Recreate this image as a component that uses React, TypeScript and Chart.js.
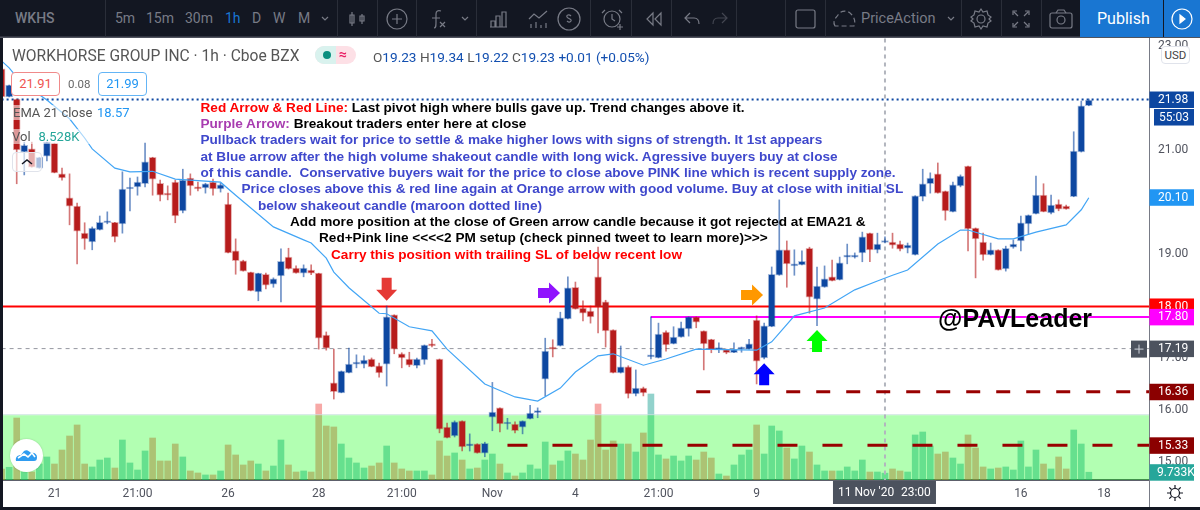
import React, { useEffect, useRef } from "react";
import { Chart, registerables } from "chart.js";

Chart.register(...registerables);

// Candles, hourly, left to right
const opens = [22.57,22.03,21.99,20.97,21.03,20.66,20.89,21.14,20.55,20.09,
19.93,19.41,19.24,19.47,19.61,19.62,19.59,20.26,20.30,20.36,
20.87,20.37,20.18,20.39,19.84,20.47,20.30,20.28,20.39,20.26,
19.97,19.07,18.88,18.66,18.28,18.62,18.43,18.59,18.95,18.74,
18.64,18.70,18.64,17.45,16.53,16.34,16.72,16.89,16.89,16.99,
16.86,16.89,17.84,17.09,16.99,16.86,16.97,17.28,16.99,15.68,
15.51,15.80,15.32,15.36,15.18,15.87,16.05,15.74,15.74,15.68,
15.84,15.96,16.60,17.20,17.24,17.76,18.37,17.97,17.91,18.57,
18.09,17.55,16.72,16.84,16.32,16.43,17.03,17.01,17.51,17.28,
17.41,17.57,17.80,17.53,17.37,17.17,17.17,17.11,17.18,17.18,
17.74,17.01,17.61,18.60,19.09,18.78,18.80,19.12,18.14,18.37,
18.57,18.51,18.95,18.95,19.03,19.41,19.09,19.23,19.24,19.20,
19.12,18.99,20.11,20.36,20.55,20.22,19.82,20.32,20.70,19.51,
19.24,18.99,19.09,18.72,19.14,19.26,19.59,19.78,20.14,19.80,
19.97,19.93,20.11,20.97,21.86];
const closes = [22.03,22.26,21.01,21.10,20.68,20.87,21.16,20.57,20.47,19.93,
19.45,19.30,19.51,19.62,19.62,19.34,20.26,20.28,20.39,20.78,
20.45,20.14,20.14,19.74,20.43,20.32,20.26,20.36,20.26,20.34,
19.03,18.88,18.68,18.30,18.64,18.41,18.53,18.87,18.72,18.64,
18.74,18.64,17.39,17.20,16.36,16.76,16.89,16.93,16.97,16.84,
16.72,17.80,17.18,17.01,16.87,16.99,17.26,17.24,15.64,15.47,
15.78,15.30,15.36,15.18,15.37,15.97,15.74,15.76,15.61,15.80,
15.95,15.97,17.14,17.18,17.78,18.36,17.95,17.87,17.80,17.99,
17.53,16.72,16.84,16.32,16.43,16.34,17.07,17.47,17.26,17.41,
17.59,17.80,17.70,17.28,17.17,17.20,17.11,17.17,17.20,17.28,
16.95,17.63,18.62,19.09,18.82,18.80,18.87,18.18,18.39,18.53,
18.49,18.84,18.99,18.99,19.34,19.09,19.20,19.23,19.18,19.10,
19.18,20.13,20.36,20.47,20.18,19.84,20.34,20.51,19.49,19.30,
18.99,19.09,18.70,19.12,19.20,19.61,19.76,20.14,19.82,19.95,
19.87,19.87,20.99,21.86,21.97];
const highs = [22.57,22.26,21.99,21.16,21.16,20.87,21.16,21.14,20.66,20.55,
19.99,19.61,19.53,19.74,19.82,19.62,20.59,20.47,20.49,21.14,
20.87,20.43,20.32,20.43,20.64,20.55,20.39,20.37,20.45,20.37,
20.18,19.30,18.89,18.66,18.64,18.64,18.55,19.11,19.12,18.78,
18.80,18.80,18.64,17.51,17.18,16.76,17.20,17.07,17.05,17.01,
16.91,18.01,17.84,17.11,17.12,17.01,17.26,17.37,16.99,15.76,
15.80,15.80,15.55,15.36,15.39,16.54,16.05,15.85,15.78,15.80,
16.10,16.05,17.39,17.36,17.89,18.57,18.47,18.11,18.01,19.14,
18.12,17.55,17.24,16.86,16.78,16.45,17.80,17.68,17.53,17.61,
17.70,17.80,17.80,17.53,17.37,17.30,17.18,17.30,17.22,17.37,
17.82,17.68,18.76,20.05,19.26,19.09,19.07,19.14,18.76,18.78,
18.89,18.95,19.20,19.03,19.43,19.41,19.41,19.34,19.41,19.26,
19.22,20.13,20.64,20.57,20.76,20.22,20.39,20.53,20.70,19.51,
19.41,19.22,19.09,19.16,19.28,19.74,19.76,20.51,20.36,20.14,
20.05,19.95,21.36,21.95,21.99];
const lows = [22.03,22.03,20.36,20.53,20.68,20.66,20.80,20.57,20.43,19.57,
18.82,19.10,19.09,19.47,19.59,19.24,19.41,19.84,20.14,20.30,
20.14,20.03,20.05,19.61,19.80,20.14,20.22,20.18,20.14,20.20,
19.03,18.62,18.68,18.30,18.11,18.34,18.37,18.09,18.72,18.64,
18.57,18.61,17.18,17.16,16.22,16.34,16.72,16.82,16.82,16.84,
16.64,16.47,17.09,16.82,16.84,16.82,16.89,17.22,15.57,15.47,
15.49,15.22,15.22,15.18,15.11,15.61,15.59,15.64,15.57,15.55,
15.84,15.86,16.28,17.03,17.24,17.76,17.95,17.72,17.68,17.49,
17.22,16.72,16.72,16.24,16.28,16.28,16.99,17.01,17.14,17.28,
17.41,17.43,17.59,16.78,17.11,17.11,17.09,17.11,17.12,17.18,
16.51,16.99,17.61,18.60,18.37,18.60,18.80,17.87,17.63,18.37,
18.49,18.51,18.82,18.93,18.86,18.86,19.03,19.22,19.12,19.07,
19.03,18.99,20.03,20.18,20.18,19.66,19.82,20.30,19.07,18.55,
18.89,18.99,18.70,18.68,19.12,19.07,19.39,19.78,19.82,19.78,
19.84,19.87,20.11,20.97,21.86];
// Volume in thousands of shares
const volumes = [13.8,15.9,77.5,10,10,20,28.8,20,37.5,55,
68.8,20,16.3,25,27.5,15,50,21.3,12.5,36.3,
52.5,23.8,23.8,45,28.8,11.3,8.8,6.3,6.3,11.3,
43.8,31.3,18.8,23.8,20,11.3,17.5,50,18.8,10,
11.3,10,95,67.5,66.3,45,27.5,21.3,15,17.5,
21.3,42.5,21.3,13.8,11.3,11.3,11.3,6.3,48.8,30,
33.8,25,13.8,15,25,32.5,20,8.8,5,8.8,
18.8,13.8,47.5,18.8,23.8,36.3,32.5,25,50,95,
37.5,48.8,45,45,35,58.8,107.5,31.3,26.3,30,
23.8,30,25,35,27.5,7.5,5,18.8,31.3,37.5,
68.8,32.5,67.5,61.3,40,26.3,42.5,35,18.8,11.3,
11.3,11.3,16.3,11.3,25,10,10,8.528,13.8,11.3,
10,56.3,60,42.5,32.5,35,27.5,20,56.3,40,
16.3,13.8,15,16.3,12.5,48.8,16.3,37.5,20,13.8,
28.8,13.8,62.5,45,9.733];
// EMA 21, read at the candles where its bends are visible
const emaIndex = [0,1,2,3,5,6,9,11,12,15,17,20,23,29,31,36,40,41,43,44,46,50,51,54,57,59,64,68,71,74,76,79,81,85,88,92,100,102,105,109,113,116,118,120,124,127,128,132,134,137,141,143,144];
const emaValues = [22.72,22.59,22.41,22.26,22.07,21.97,21.61,21.24,21.03,20.66,20.59,20.60,20.45,20.39,20.14,19.53,19.28,19.22,18.93,18.66,18.36,17.87,17.86,17.61,17.53,17.18,16.51,16.26,16.18,16.43,16.74,17.05,17.09,16.87,16.99,17.18,17.16,17.32,17.82,17.97,18.32,18.49,18.60,18.70,19.20,19.47,19.47,19.30,19.30,19.43,19.57,19.86,20.09];

const xTickIndex = [7,18,30,42,53,65,76,87,100,135,146];
const xTickLabels = ["21","21:00","26","28","21:00","Nov","4","21:00","9","16","18"];
const priceTicks = [15,16,17,18,19,20,21,22,23];

const crosshairIndex = 117;
const lastLevel = 21.98, crossLevel = 17.19, redLevel = 18.0, pinkLevel = 17.8, maroonHigh = 16.36, maroonLow = 15.33;
const bandTop = 15.91;
const VOLUME_DATASET = 10;

const UP = "#0d47a1", DOWN = "#b71c1c";
const hexA = (up: boolean, a: number) => (up ? `rgba(13,71,161,${a})` : `rgba(183,28,28,${a})`);
const isUp = closes.map((c, i) => c >= opens[i]);

const arrows = [
  { i: 51, price: 18.11, dir: "down", color: "#e53935" },
  { i: 73.96, price: 18.26, dir: "right", color: "#9013fe" },
  { i: 100.85, price: 18.22, dir: "right", color: "#ff9800" },
  { i: 101, price: 16.91, dir: "up", color: "#0000ff" },
  { i: 108, price: 17.55, dir: "up", color: "#00ff00" },
];

const priceTags = [
  { value: lastLevel, text: "21.98", bg: "#0d47a1" },
  { value: 20.1, text: "20.10", bg: "#2196f3" },
  { value: redLevel, text: "18.00", bg: "#ff0000" },
  { value: pinkLevel, text: "17.80", bg: "#ff00ff" },
  { value: crossLevel, text: "17.19", bg: "#4c525e" },
  { value: maroonHigh, text: "16.36", bg: "#8b0000" },
  { value: maroonLow, text: "15.33", bg: "#8b0000" },
];

const overlay = {
  id: "tvOverlay",
  afterDatasetDraw(chart: any, args: any) {
    if (args.index !== VOLUME_DATASET) return;
    const { ctx, chartArea: a, scales } = chart;
    const y = scales.y.getPixelForValue(bandTop);
    ctx.save();
    ctx.fillStyle = "rgba(0,255,0,.3)";
    ctx.fillRect(a.left, y, a.right - a.left, a.bottom - y);
    ctx.fillStyle = "rgba(200,225,220,.8)";
    ctx.fillRect(a.left, y - 1, a.right - a.left, 1);
    ctx.restore();
  },
  afterDraw(chart: any) {
    const { ctx, scales } = chart;
    const sx = scales.x, sy = scales.y, sv = scales.yVol;
    ctx.save();
    for (const ar of arrows) {
      const px = sx.getPixelForValue(ar.i), py = sy.getPixelForValue(ar.price);
      ctx.fillStyle = ar.color;
      ctx.beginPath();
      const pts =
        ar.dir === "down"
          ? [[-5, -23], [5, -23], [5, -11], [10.5, -11], [0, 0], [-10.5, -11], [-5, -11]]
          : ar.dir === "up"
          ? [[-5, 22], [5, 22], [5, 11], [10.5, 11], [0, 0], [-10.5, 11], [-5, 11]]
          : [[-22, -5], [-11, -5], [-11, -10.5], [0, 0], [-11, 10.5], [-11, 5], [-22, 5]];
      pts.forEach(([dx, dy], n) => (n ? ctx.lineTo(px + dx, py + dy) : ctx.moveTo(px + dx, py + dy)));
      ctx.closePath();
      ctx.fill();
    }
    ctx.font = "12px Roboto";
    ctx.textBaseline = "middle";
    ctx.textAlign = "left";
    const tag = (x: number, yc: number, w: number, bg: string, text: string, tx: number) => {
      ctx.fillStyle = bg;
      ctx.fillRect(x, yc - 8, w, 16.5);
      ctx.fillStyle = "#fff";
      ctx.fillText(text, tx, yc + 0.5);
    };
    for (const t of priceTags) tag(1149.5, sy.getPixelForValue(t.value), 44.5, t.bg, t.text, 1158);
    tag(1154, sy.getPixelForValue(lastLevel) + 17.5, 40, "#0d47a1", "55:03", 1159);
    tag(1149.5, sv.getPixelForValue(volumes[volumes.length - 1]), 44.5, "#26a69a", "9.733K", 1157);
    // crosshair date pill
    const cx = sx.getPixelForValue(crosshairIndex);
    ctx.fillStyle = "#4c525e";
    ctx.fillRect(cx - 52, 481, 103, 23);
    ctx.fillStyle = "#fff";
    ctx.fillText("11 Nov '20", cx - 47, 493);
    ctx.fillText("23:00", cx + 16, 493);
    // plus button beside the crosshair price
    const py = sy.getPixelForValue(crossLevel);
    ctx.fillStyle = "#4c525e";
    ctx.fillRect(1131, py - 8, 16, 17);
    ctx.strokeStyle = "#d1d4dc";
    ctx.beginPath();
    ctx.moveTo(1134.5, py + 0.5);
    ctx.lineTo(1143.5, py + 0.5);
    ctx.moveTo(1139, py - 4);
    ctx.lineTo(1139, py + 5);
    ctx.stroke();
    ctx.restore();
  },
};

const ui = "Roboto, sans-serif";
const GREY = "#787b86";

const tfs: [string, number, string][] = [["5m", 115, GREY], ["15m", 146, GREY], ["30m", 185, GREY], ["1h", 225, "#1976d2"], ["D", 252, GREY], ["W", 273, GREY], ["M", 298, GREY]];
const seps = [105, 337, 377, 416, 476, 590, 631, 671, 736, 785, 825, 961, 1001, 1041];

const notes: { x: number; y: number; parts: [string, string][] }[] = [
  { x: 200.5, y: 99.5, parts: [["Red Arrow & Red Line: ", "#ff0000"], ["Last pivot high where bulls gave up. Trend changes above it.", "#000"]] },
  { x: 200.5, y: 115.8, parts: [["Purple Arrow: ", "#a83cb0"], ["Breakout traders enter here at close", "#000"]] },
  { x: 200.5, y: 132.1, parts: [["Pullback traders wait for price to settle & make higher lows with signs of strength. It 1st appears", "#3f48cc"]] },
  { x: 200.5, y: 148.5, parts: [["at Blue arrow after the high volume shakeout candle with long wick. Agressive buyers buy at close", "#3f48cc"]] },
  { x: 200.5, y: 164.8, parts: [["of this candle.  Conservative buyers wait for the price to close above PINK line which is recent supply zone.", "#3f48cc"]] },
  { x: 241.5, y: 181.1, parts: [["Price closes above this & red line again at Orange arrow with good volume. Buy at close with initial SL", "#3f48cc"]] },
  { x: 258, y: 197.5, parts: [["below shakeout candle (maroon dotted line)", "#3f48cc"]] },
  { x: 290, y: 213.8, parts: [["Add more position at the close of Green arrow candle because it got rejected at EMA21 &", "#000"]] },
  { x: 319, y: 230.1, parts: [["Red+Pink line <<<<2 PM setup (check pinned tweet to learn more)>>>", "#000"]] },
  { x: 331, y: 246.5, parts: [["Carry this position with trailing SL of below recent low", "#ff0000"]] },
];

const abs = (l: number, t: number, extra: React.CSSProperties = {}): React.CSSProperties => ({ position: "absolute", left: l, top: t, whiteSpace: "pre", ...extra });

const Ico = ({ x, w = 24, children }: { x: number; w?: number; children: React.ReactNode }) => (
  <svg style={{ position: "absolute", left: x, top: 7 }} width={w} height={24} viewBox={`0 0 ${w} 24`} fill="none" stroke={GREY} strokeWidth={1.2}>
    {children}
  </svg>
);

export default function App() {
  const ref = useRef<HTMLCanvasElement>(null);
  useEffect(() => {
    const level = (price: number, from: number, color: string, width: number, dash: number[], order: number) => ({
      type: "line" as const,
      data: [{ x: from, y: price }, { x: 152, y: price }],
      borderColor: color,
      borderWidth: width,
      borderDash: dash,
      pointRadius: 0,
      yAxisID: "y",
      order,
    });
    const idx = opens.map((_, i) => i);
    const chart = new Chart(ref.current!, {
      type: "bar",
      data: {
        datasets: [
          {
            type: "line",
            data: emaIndex.map((x, n) => ({ x, y: emaValues[n] })),
            borderColor: "#42a5f5",
            borderWidth: 1.2,
            pointRadius: 0,
            tension: 0,
            yAxisID: "y",
            order: 2,
          },
          {
            data: idx.map((i) => ({ x: i, y: [opens[i], closes[i]] })),
            backgroundColor: isUp.map((u) => (u ? UP : DOWN)),
            borderColor: isUp.map((u) => hexA(u, 0.35)),
            borderWidth: 1,
            borderSkipped: false,
            barThickness: 7,
            minBarLength: 2,
            grouped: false,
            yAxisID: "y",
            order: 3,
          },
          {
            data: idx.map((i) => ({ x: i, y: [lows[i], highs[i]] })),
            backgroundColor: isUp.map((u) => hexA(u, 0.6)),
            borderWidth: 0,
            barThickness: 1,
            grouped: false,
            yAxisID: "y",
            order: 4,
          },
          level(maroonHigh, 92, "#990000", 3, [14, 16], 1),
          level(maroonLow, 67, "#990000", 3, [20, 25], 1),
          level(redLevel, 0, "#ff0000", 2, [], 5),
          level(pinkLevel, 86, "#ff00ff", 2, [], 5),
          level(lastLevel, 0, "#0d47a1", 2, [2, 3], 5),
          level(crossLevel, 0, "#9598a1", 1, [4, 4], 6),
          {
            type: "line",
            data: [{ x: crosshairIndex, y: 14 }, { x: crosshairIndex, y: 24 }],
            borderColor: "#b2b5be",
            borderWidth: 2,
            borderDash: [4, 4],
            pointRadius: 0,
            yAxisID: "y",
            order: 6,
          },
          {
            data: idx.map((i) => ({ x: i, y: volumes[i] })),
            backgroundColor: isUp.map((u) => (u ? "rgba(38,166,154,.5)" : "rgba(239,83,80,.5)")),
            borderWidth: 0,
            barThickness: 6,
            grouped: false,
            yAxisID: "yVol",
            order: 7,
          },
        ] as any,
      },
      options: {
        responsive: false,
        animation: false,
        parsing: undefined,
        layout: { padding: { left: 3, top: 38, bottom: 3, right: 0 } },
        plugins: { legend: { display: false }, tooltip: { enabled: false } },
        scales: {
          x: {
            type: "linear",
            min: 0.185,
            max: 151.97,
            offset: false,
            grid: { display: false, offset: false, drawTicks: true, tickLength: 5, tickColor: "#787b86" } as any,
            border: { color: "#5d606b", width: 2 },
            afterBuildTicks: (s: any) => { s.ticks = xTickIndex.map((value) => ({ value })); },
            afterFit: (s: any) => { s.height = 27; },
            ticks: {
              autoSkip: false,
              maxRotation: 0,
              padding: 2,
              color: "#50535e",
              font: { family: ui, size: 12 },
              callback: (v: any) => xTickLabels[xTickIndex.indexOf(v)] ?? "",
            },
          },
          y: {
            type: "linear",
            position: "right",
            min: 14.663,
            max: 23.163,
            grid: { display: false, tickLength: 5, tickColor: "#787b86" } as any,
            border: { color: "#787b86", width: 1 },
            afterBuildTicks: (s: any) => { s.ticks = priceTicks.map((value) => ({ value })); },
            afterFit: (s: any) => { s.width = 51; },
            ticks: { padding: 4, color: "#50535e", font: { family: ui, size: 12 }, callback: (v: any) => Number(v).toFixed(2) },
          },
          yVol: { type: "linear", display: false, min: 0, max: 552.5 },
        },
      } as any,
      plugins: [overlay as any],
    });
    return () => chart.destroy();
  }, []);

  return (
    <div style={{ position: "fixed", left: 0, top: 0, width: 1200, height: 510, overflow: "hidden", background: "#fff", fontFamily: ui }}>
      <canvas ref={ref} width={1200} height={510} style={{ position: "absolute", left: 0, top: 0, display: "block" }} />

      {/* frame */}
      <div style={abs(0, 0, { width: 3, height: 510, background: "#131722" })} />
      <div style={abs(0, 507, { width: 1200, height: 3, background: "#131722" })} />
      <div style={abs(1149, 480, { width: 1, height: 27, background: "#787b86" })} />

      {/* toolbar */}
      <div style={abs(0, 0, { width: 1200, height: 38, background: "#131722", boxShadow: "inset 0 -1.5px 0 #50535e" })} />
      {seps.map((x) => (
        <div key={x} style={abs(x, 0, { width: 1, height: 36.5, background: "#2a2e39" })} />
      ))}
      <div style={abs(15, 10, { color: GREY, fontSize: 14, fontWeight: 500 })}>WKHS</div>
      {tfs.map(([t, x, c]) => (
        <div key={t} style={abs(x, 10, { color: c, fontSize: 14 })}>{t}</div>
      ))}
      <Ico x={313}><path d="M9 10l3 3 3-3" /></Ico>
      <Ico x={345}><path d="M7 5v14M17 7v10M5 8h4v8H5zM15 9h4v5h-4z" /></Ico>
      <Ico x={385}><circle cx="12" cy="12" r="10" /><path d="M12 7v10M7 12h10" /></Ico>
      <Ico x={426}><path d="M8 21c2 0 2-2 2-6V7c0-3 2-4 5-3M6 11h8M14 15l5 5M19 15l-5 5" /></Ico>
      <Ico x={453}><path d="M9 10l3 3 3-3" /></Ico>
      <Ico x={486}><path d="M4 20h17M5 14h4v6H5zM10 9h4v11h-4zM16 5h4v15h-4z" /></Ico>
      <Ico x={526} w={26}><path d="M3 12l5-5 5 4 8-7M5 21v-4M10 21v-6M15 21v-3M20 21v-5" /></Ico>
      <Ico x={557}><circle cx="12" cy="12" r="11" /><path d="M14 9c-2-2-5-1-4 1s5 2 4 4-3 1-4 0" /></Ico>
      <Ico x={600}><circle cx="12" cy="12" r="8" /><path d="M12 7v5l3 2M5 3L2 6M19 3l3 3M17 20h6M20 17v6" /></Ico>
      <Ico x={642}><path d="M11 6l-6 6 6 6zM19 6l-6 6 6 6z" /></Ico>
      <Ico x={680}><path d="M10 6l-5 5 5 5M5 11h9c4 0 5 3 5 6" /></Ico>
      <Ico x={708}><path d="M14 6l5 5-5 5M19 11h-9c-4 0-5 3-5 6" stroke="#434651" /></Ico>
      <Ico x={794}><rect x="2" y="3" width="19" height="18" rx="2" /></Ico>
      <Ico x={832} w={26}><path d="M3 19c-3-5 1-8 3-11 3-5 10-5 13-1 3 3 5 7 3 12z" strokeDasharray="5 3" /></Ico>
      <div style={abs(861, 10, { color: GREY, fontSize: 14.5 })}>PriceAction</div>
      <Ico x={939}><path d="M9 10l3 3 3-3" /></Ico>
      <Ico x={969}><circle cx="12" cy="12" r="4" /><path d="M12 2l2 3 4-1 1 4 3 2-2 2 2 2-3 2-1 4-4-1-2 3-2-3-4 1-1-4-3-2 2-2-2-2 3-2 1-4 4 1z" /></Ico>
      <Ico x={1009}><path d="M4 8V4h4M16 4h4v4M20 16v4h-4M8 20H4v-4M5 5l4 4M19 5l-4 4M19 19l-4-4M5 19l4-4" /></Ico>
      <Ico x={1049}><rect x="1" y="6" width="22" height="15" rx="2" /><circle cx="12" cy="13" r="4" /><path d="M7 6l2-3h6l2 3" /></Ico>
      <div style={abs(1080, 0, { width: 83, height: 37, background: "#1976d2" })} />
      <div style={abs(1163, 0, { width: 37, height: 37, background: "#1976d2", borderLeft: "1px solid #131722", boxSizing: "border-box" })} />
      <div style={abs(1097, 9, { color: "#fff", fontSize: 16 })}>Publish</div>
      <svg style={{ position: "absolute", left: 1171, top: 8 }} width={22} height={22} fill="none" stroke="#fff" strokeWidth={1.2}>
        <circle cx="11" cy="11" r="10" />
        <path d="M9 7l5 4-5 4z" fill="#fff" />
      </svg>

      {/* legend */}
      <div style={abs(12, 47, { color: "#555", fontSize: 15.6 })}>WORKHORSE GROUP INC · 1h · Cboe BZX</div>
      <div style={abs(315, 46, { width: 41, height: 18, borderRadius: 9, overflow: "hidden", background: "#fde0e6" })}>
        <div style={{ width: 21, height: 18, background: "#d9f2ee", position: "relative" }}>
          <div style={{ position: "absolute", left: 8, top: 5, width: 8, height: 8, borderRadius: 4, background: "#0a8f7f" }} />
        </div>
        <div style={{ position: "absolute", left: 24, top: 0, color: "#e91e63", fontSize: 14, fontWeight: 700 }}>≈</div>
      </div>
      <div style={abs(373, 49, { fontSize: 13.6, color: "#124fb0" })}>
        {[["O", "19.23"], ["H", "19.34"], ["L", "19.22"], ["C", "19.23"]].map(([a, b]) => (
          <span key={a}><span style={{ color: "#555" }}>{a}</span>{b} </span>
        ))}
        +0.01 (+0.05%)
      </div>
      <div style={abs(11, 72, { width: 49, height: 24, boxSizing: "border-box", border: "1px solid #f08a8a", borderRadius: 4, background: "#fff", color: "#ef5350", fontSize: 13, textAlign: "center", lineHeight: "22px" })}>21.91</div>
      <div style={abs(68, 77, { color: "#666", fontSize: 11.5 })}>0.08</div>
      <div style={abs(98, 72, { width: 49, height: 24, boxSizing: "border-box", border: "1px solid #64b5f6", borderRadius: 4, background: "#fff", color: "#2196f3", fontSize: 13, textAlign: "center", lineHeight: "22px" })}>21.99</div>
      <div style={abs(12, 105, { color: "#555", fontSize: 13, background: "rgba(255,255,255,.55)", padding: "0 1px" })}>EMA 21 close</div>
      <div style={abs(97, 105, { color: "#2196f3", fontSize: 13 })}>18.57</div>
      <div style={abs(12, 129, { color: "#555", fontSize: 13, background: "rgba(255,255,255,.55)", width: 80 })}>
        Vol<span style={{ color: "#26a69a", marginLeft: 8 }}>8.528K</span>
      </div>
      <div style={abs(12, 152, { width: 30, height: 20, boxSizing: "border-box", border: "1px solid #e0e3eb", borderRadius: 4, background: "rgba(255,255,255,.65)" })}>
        <svg width={28} height={18} fill="none" stroke="#131722" strokeWidth={1.5}><path d="M9 11l5-4 5 4" /></svg>
      </div>
      <div style={abs(1161, 46, { width: 29, height: 18, boxSizing: "border-box", border: "1px solid #e0e3eb", borderRadius: 4, background: "#fff", color: "#444", fontSize: 11.5, textAlign: "center", lineHeight: "16px" })}>USD</div>

      {/* logo and settings */}
      <div style={abs(10, 439, { width: 33, height: 33, borderRadius: 17, background: "#fff", boxShadow: "0 0 2px rgba(0,0,0,.2)" })}>
        <svg width={33} height={33}>
          <path d="M6 22c-1-4 2-6 5-6l3-4c3-2 5 0 7 2 3-1 6 1 6 4 0 3-1 4-3 4z" fill="#2f9cf0" />
          <path d="M8 19l6-4 4 3 4-4 3 4" fill="none" stroke="#fff" strokeWidth={1.6} />
        </svg>
      </div>
      <svg style={{ position: "absolute", left: 1166, top: 484 }} width={18} height={18} fill="none" stroke="#131722" strokeWidth={1.2}>
        <circle cx="9" cy="9" r="4.5" />
        <path d="M9 1v3M9 14v3M1 9h3M14 9h3M3.3 3.3l2.2 2.2M12.5 12.5l2.2 2.2M3.3 14.7l2.2-2.2M12.5 5.5l2.2-2.2" />
      </svg>

      {/* annotations */}
      {notes.map((n, k) => (
        <div key={k} style={abs(n.x, n.y, { fontFamily: "'Liberation Sans', Arial, sans-serif", fontWeight: 700, fontSize: 13.6, lineHeight: "16px" })}>
          {n.parts.map(([t, c], j) => (
            <span key={j} style={{ color: c }}>{t}</span>
          ))}
        </div>
      ))}
      <div style={abs(938, 303, { fontFamily: "'Liberation Sans', Arial, sans-serif", fontWeight: 700, fontSize: 25, lineHeight: "30px", color: "#000", textShadow: "0 0 1px #fff" })}>@PAVLeader</div>
    </div>
  );
}
